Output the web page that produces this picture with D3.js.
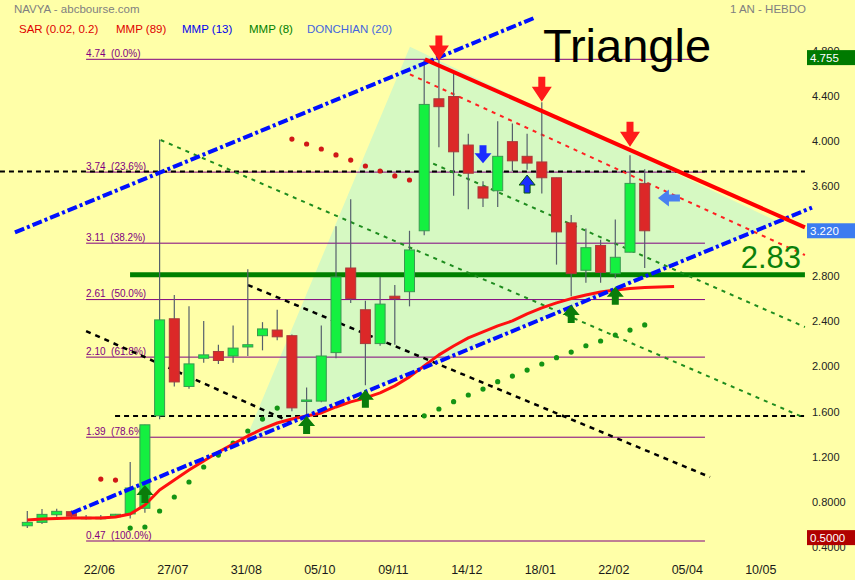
<!DOCTYPE html>
<html><head><meta charset="utf-8">
<script src="https://cdn.jsdelivr.net/npm/d3@7"></script>
<style>
body{margin:0;background:#ffffa8;}
svg{display:block;font-family:Arial,"Liberation Sans",sans-serif;}
</style>
</head><body><svg id="c" width="855" height="580"></svg>
<script>
// ---- weekly candles (index 0..42) ----
const candleOpen  = [0.605,0.635,0.703,0.73,0.68,0.68,0.685,0.71,0.76,1.58,2.44,1.84,2.09,2.15,2.11,2.19,2.29,2.34,2.29,1.71,1.71,2.14,2.89,2.52,2.22,2.64,2.68,3.22,4.39,4.41,3.98,3.61,3.575,4.01,3.88,3.83,3.69,3.29,2.87,3.09,2.84,3.03,3.64];
const candleHigh  = [0.735,0.753,0.756,0.74,0.70,0.70,0.71,1.17,1.50,4.03,2.65,2.55,2.42,2.21,2.38,2.88,2.41,2.52,2.30,1.83,2.38,3.26,3.50,2.60,2.81,2.74,3.22,4.74,4.755,4.62,4.08,3.66,4.19,4.17,4.08,4.36,3.69,3.36,3.24,3.14,3.32,3.89,3.765];
const candleLow   = [0.585,0.62,0.685,0.68,0.66,0.66,0.68,0.67,0.72,1.55,1.84,1.82,2.05,2.04,2.05,2.11,2.16,2.25,1.62,1.57,1.70,2.09,2.58,1.85,2.20,2.21,2.55,3.18,3.96,3.53,3.41,3.43,3.43,3.75,3.76,3.55,2.92,2.64,2.76,2.76,2.80,3.03,2.89];
const candleClose = [0.635,0.706,0.733,0.69,0.68,0.68,0.707,0.94,1.50,2.43,1.88,2.04,2.12,2.07,2.18,2.21,2.35,2.28,1.65,1.72,2.11,2.81,2.62,2.22,2.57,2.62,3.05,4.34,4.32,3.92,3.73,3.51,3.88,3.84,3.82,3.69,3.21,2.84,3.07,2.85,2.985,3.64,3.22];

// ---- Parabolic SAR (null = none), side: 1 below price (green), -1 above (red) ----
const sarValue = [null,null,null,null,null,1.019,1.01,0.585,0.594,0.736,0.860,0.993,1.126,1.232,1.338,1.445,1.551,1.648,4.033,3.989,3.945,3.892,3.847,3.794,3.750,3.706,3.670,1.580,1.640,1.705,1.764,1.817,1.882,1.932,1.985,2.039,2.095,2.145,2.201,2.243,2.296,2.340,2.385];
const sarSide  = [0,0,0,0,0,-1,-1,1,1,1,1,1,1,1,1,1,1,1,-1,-1,-1,-1,-1,-1,-1,-1,-1,1,1,1,1,1,1,1,1,1,1,1,1,1,1,1,1];

// ---- MMP (89) red line (index 0..44) ----
const mmp89 = [0.656,0.665,0.669,0.674,0.674,0.674,0.682,0.709,0.789,0.922,1.010,1.099,1.179,1.259,1.330,1.401,1.463,1.516,1.552,1.578,1.605,1.658,1.703,1.738,1.783,1.845,1.925,2.022,2.120,2.199,2.270,2.323,2.377,2.421,2.483,2.536,2.581,2.619,2.650,2.677,2.695,2.708,2.717,2.721,2.726];

// ---- axis ----
const tickIndex  = [5,10,15,20,25,30,35,40,45,50];
const tickLabels = ["22/06","27/07","31/08","05/10","09/11","14/12","18/01","22/02","05/04","10/05"];
const yTicks = [4.8,4.4,4.0,3.6,2.8,2.4,2.0,1.6,1.2,0.8,0.4];

// ---- Fibonacci ----
const fibLevels = [4.74,3.74,3.11,2.61,2.10,1.39,0.47];
const fibLabels = ["4.74  (0.0%)","3.74  (23.6%)","3.11  (38.2%)","2.61  (50.0%)","2.10  (61.8%)","1.39  (78.6%)","0.47  (100.0%)"];
const fibSpan = [4.0, 46.1];

// ---- drawn lines: [index, price] pairs ----
const triangleZone = [[14.81,1.356],[26.03,4.852],[51.04,3.300]];
const blueLower = [[3.02,0.718],[53.38,3.426]];
const blueUpper = [[-0.84,3.205],[34.47,5.106]];
const redResistance = [[27.05,4.74],[52.9,3.25]];
const redDotted = [[26.03,4.607],[52.9,3.005]];
const greenDotted1 = [[9.07,4.025],[52.9,1.560]];
const greenDotted2 = [[27.05,3.847],[52.9,2.367]];
const blackDiag1 = [[4.0,2.331],[17.87,1.527]];
const blackDiag2 = [[15.01,2.739],[46.44,1.037]];
const blackLevel1 = [[-1.86,3.745],[52.9,3.745]];
const blackLevel2 = [[5.97,1.578],[52.9,1.578]];
const supportLevel = [[6.99,2.83],[52.9,2.83]];

// ---- signal arrows ----
const arrowIndex = [28,35,41,31,34,8,19,23,37,40];
const arrowPrice = [4.73,4.364,3.965,3.818,3.714,0.966,1.578,1.81,2.562,2.724];
const arrowKind  = ["sell","sell","sell","bsell","bbuy","buy","buy","buy","buy","buy"];
const pointerArrow = [42.9,3.51];

// ---- price tags ----
const tagValues = [4.755,3.22,0.5];
const tagTexts = ["4.755","3.220","0.5000"];

const svg = d3.select("#c");
const x = d3.scaleLinear().domain([0,50]).range([27.3,762.3]);
const y = d3.scaleLinear().domain([0.47,4.74]).range([541,59.3]);
const line = d3.line().x(d=>x(d[0])).y(d=>y(d[1]));

svg.append("rect").attr("width",855).attr("height",580).attr("fill","#ffffa8");

// triangle zone
svg.append("path").attr("d",line(triangleZone)+"Z").attr("fill","#d6f9c2");

// fib lines
const fib = svg.append("g");
fibLevels.forEach((v,k)=>{
  fib.append("line").attr("x1",x(fibSpan[0])).attr("x2",x(fibSpan[1]))
    .attr("y1",y(v)).attr("y2",y(v)).attr("stroke","#800080").attr("stroke-width",1);
  fib.append("text").attr("x",x(fibSpan[0])).attr("y",y(v)-2.5)
    .attr("xml:space","preserve").style("white-space","pre")
    .attr("font-size",10).attr("fill","#800080").text(fibLabels[k]);
});

function drawLine(data, color, width, dash){
  const p = svg.append("path").attr("d",line(data)).attr("fill","none")
    .attr("stroke",color).attr("stroke-width",width);
  if(dash) p.attr("stroke-dasharray",dash);
  return p;
}
drawLine(blackLevel1,"#000",2,"5,4");
drawLine(blackLevel2,"#000",2,"5,4");
drawLine(supportLevel,"#008000",5);
drawLine(greenDotted1,"#1e8c1e",2,"4,5");
drawLine(greenDotted2,"#1e8c1e",2,"4,5");
drawLine(blackDiag1,"#000",2.5,"5,5");
drawLine(blackDiag2,"#000",2.5,"5,5");
drawLine(redDotted,"#ff2020",2,"4,5");

// candles
const cg = svg.append("g");
candleOpen.forEach((o,i)=>{
  const c = candleClose[i], up = c>=o;
  const cx = x(i);
  cg.append("line").attr("x1",cx).attr("x2",cx).attr("y1",y(candleHigh[i])).attr("y2",y(candleLow[i]))
    .attr("stroke","#56606c").attr("stroke-width",1.2);
  const top = y(Math.max(o,c)), bot = y(Math.min(o,c));
  cg.append("rect").attr("x",cx-5).attr("width",10).attr("y",top).attr("height",Math.max(1.5,bot-top))
    .attr("fill",up?"#14f040":"#dc2828").attr("stroke",up?"#3a9a50":"#a83a3a").attr("stroke-width",1);
});

// SAR
svg.append("g").selectAll("circle").data(sarValue.map((v,i)=>[i,v,sarSide[i]]).filter(d=>d[1]!==null))
  .join("circle").attr("cx",d=>x(d[0])).attr("cy",d=>y(d[1])).attr("r",2.6)
  .attr("fill",d=>d[2]>0?"#149414":"#d01818");

// MMP 89
drawLine(mmp89.map((v,i)=>[i,v]),"#ff1010",3).attr("stroke-linejoin","round");

// blue channel
drawLine(blueLower,"#0010ff",4,"10,3,3,3");
drawLine(blueUpper,"#0010ff",4,"10,3,3,3");
// red resistance
drawLine(redResistance,"#ff0000",4);

// arrows
function arrowPath(hw,hh,sw,sh){
  return `M${-sw/2},${-(hh+sh)}L${sw/2},${-(hh+sh)}L${sw/2},${-hh}L${hw/2},${-hh}L0,0L${-hw/2},${-hh}L${-sw/2},${-hh}Z`;
}
const kindStyle = {
  sell:{fill:"#ff1a1a",stroke:"none",up:false,p:arrowPath(20,15,7,10)},
  bsell:{fill:"#1a2cff",stroke:"none",up:false,p:arrowPath(17,10,7,8)},
  bbuy:{fill:"#1a2cff",stroke:"#0a5a0a",up:true,p:arrowPath(16,10,6,8)},
  buy:{fill:"#0a7d0a",stroke:"none",up:true,p:arrowPath(17,10,7,8)}
};
arrowIndex.forEach((ai,k)=>{
  const s = kindStyle[arrowKind[k]];
  svg.append("path").attr("d",s.p)
    .attr("transform",`translate(${x(ai)},${y(arrowPrice[k])})${s.up?" scale(1,-1)":""}`)
    .attr("fill",s.fill).attr("stroke",s.stroke).attr("stroke-width",1);
});
svg.append("path").attr("d",arrowPath(17,11,7,11))
  .attr("transform",`translate(${x(pointerArrow[0])},${y(pointerArrow[1])}) rotate(90)`)
  .attr("fill","#4a80f0");

// texts
svg.append("text").attr("x",543).attr("y",62).attr("font-size",47).attr("fill","#000").text("Triangle");
svg.append("text").attr("x",801).attr("y",268).attr("text-anchor","end").attr("font-size",31).attr("fill","#0a800a").text("2.83");

svg.append("text").attr("x",14).attr("y",13).attr("font-size",11.5).attr("fill","#808080").text("NAVYA - abcbourse.com");
svg.append("text").attr("x",806).attr("y",13).attr("text-anchor","end").attr("font-size",11.5).attr("fill","#808080").text("1 AN - HEBDO");
const legendItems = ["SAR (0.02, 0.2)","MMP (89)","MMP (13)","MMP (8)","DONCHIAN (20)"];
const legendColors = ["#e00000","#e00000","#0000ee","#008000","#4466dd"];
const legendX = [19,116,182,249,307];
legendItems.forEach((t,k)=>svg.append("text").attr("x",legendX[k]).attr("y",33).attr("font-size",11.5).attr("fill",legendColors[k]).text(t));

// axes
const yAxis = svg.append("g").attr("transform","translate(809,0)")
  .call(d3.axisRight(y).tickValues(yTicks).tickSize(0).tickPadding(3)
    .tickFormat(v=>v>=1?v.toFixed(3):v.toFixed(4)));
yAxis.select(".domain").remove();
yAxis.selectAll("text").attr("font-size",11).attr("fill","#222").attr("dy","0.14em")
  .style("font-family","Arial,'Liberation Sans',sans-serif");

const xAxis = svg.append("g").attr("transform","translate(-2,562)")
  .call(d3.axisBottom(x).tickValues(tickIndex).tickSize(0).tickPadding(3)
    .tickFormat((d,k)=>tickLabels[k]));
xAxis.select(".domain").remove();
xAxis.selectAll("text").attr("font-size",12.5).attr("fill","#1a1a1a")
  .style("font-family","Arial,'Liberation Sans',sans-serif");

// price tags
const tagColors = ["#007a00","#3c7cf0","#b00000"];
tagValues.forEach((v,k)=>{
  svg.append("rect").attr("x",807).attr("y",y(v)-7.5).attr("width",48).attr("height",15).attr("fill",tagColors[k]);
  svg.append("text").attr("x",810).attr("y",y(v)+4).attr("font-size",11.5).attr("fill","#fff").text(tagTexts[k]);
});
</script>
</body></html>
